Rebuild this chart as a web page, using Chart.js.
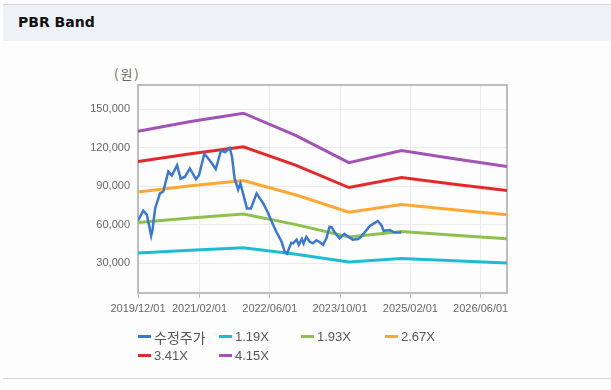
<!DOCTYPE html>
<html>
<head>
<meta charset="utf-8">
<title>PBR Band</title>
<script src="https://cdn.jsdelivr.net/npm/chart.js@4.4.1/dist/chart.umd.min.js"></script>
<style>
  html, body { margin: 0; padding: 0; background: #fdfdfd; }
  #wrap { position: relative; width: 611px; height: 390px; overflow: hidden; font-family: "Liberation Sans", Arial, sans-serif; }
  .head { position: absolute; left: 3px; top: 4px; right: 0; height: 36px; background: #eef1f6; border-top: 1px solid #d4d4d4; }
  .head span { position: absolute; left: 15px; top: 9px; font-family: "DejaVu Sans", sans-serif; font-weight: bold; font-size: 14px; color: #111; }
  .foot { position: absolute; left: 3px; right: 0; top: 378px; border-top: 1px solid #d4d4d4; }
  .unit { position: absolute; left: 114px; top: 64px; font-size: 13px; color: #666; letter-spacing: 2px; font-family: "Noto Sans CJK KR", sans-serif; }
  #chart { position: absolute; left: 0; top: 0; }
  #legend { position: absolute; left: 138px; top: 328px; display: grid; grid-template-columns: 81px 82px 84px 82px; row-gap: 2px; }
  .item { display: flex; align-items: center; height: 17px; font-size: 13px; color: #555; }
  .item i { display: inline-block; width: 13px; height: 3px; margin-right: 3px; }
  .item .ko { font-family: "Noto Sans CJK KR", sans-serif; font-size: 14px; }
</style>
</head>
<body>
<div id="wrap">
  <div class="head"><span>PBR Band</span></div>
  <div class="unit">(원)</div>
  <canvas id="chart" width="611" height="390"></canvas>
  <div id="legend"></div>
  <div class="foot"></div>
</div>
<script>
// 월 단위 위치 (2019/12/01 = 0)
const xTickMonths = [0, 14, 30, 46, 62, 78];
const xTickLabels = ['2019/12/01', '2021/02/01', '2022/06/01', '2023/10/01', '2025/02/01', '2026/06/01'];
const yTicks = [30000, 60000, 90000, 120000, 150000];

// 수정주가
const priceMonths = [0, 1.2, 2.0, 2.5, 3.0, 3.3, 3.9, 5.0, 5.75, 6.9, 7.7, 8.9, 9.7, 10.7, 11.8, 13.2, 13.9,
  15.1, 16.4, 17.7, 18.9, 19.8, 20.4, 20.9, 21.4, 22.0, 22.8, 23.3, 24.1, 24.8, 25.7, 27.0, 28.5, 29.5,
  30.5, 31.5, 32.7, 33.4, 33.9, 34.9, 35.3, 36.1, 36.6, 37.3, 37.7, 38.3, 39.1, 39.8, 40.6, 41.4, 42.1,
  42.9, 43.6, 44.1, 44.8, 45.9, 47.0, 47.8, 48.9, 50.1, 50.8, 51.8, 52.7, 53.9, 54.6, 55.4, 55.9, 57.3,
  58.4, 59.9];
const priceValues = [63500, 71000, 68000, 60000, 51500, 56000, 72800, 84500, 86000, 101500, 98500, 106500, 96000, 97500, 104000, 95500, 98800,
  115500, 110000, 103500, 118000, 116500, 118500, 120000, 113000, 96000, 87500, 92300, 82000, 72800, 72800, 84500, 76700, 70000,
  62000, 54600, 46800, 39000, 37500, 46000, 45600, 48500, 44500, 49000, 45500, 50700, 46800, 45600, 48000, 46500, 44500,
  49500, 58500, 58000, 54000, 49500, 53000, 51000, 48500, 49000, 50700, 55000, 59000, 61500, 63000, 59800, 55400, 56000,
  54000, 54000];

// PBR 밴드 (연말 기준점)
const bandMonths = [0, 12, 24, 36, 48, 60, 72, 84];
const band119 = [38100, 40300, 42200, 37100, 31100, 33800, 32000, 30200];
const band193 = [61900, 65300, 68400, 60200, 50500, 54900, 51900, 49100];
const band267 = [85600, 90400, 94600, 83300, 69800, 75900, 71700, 67900];
const band341 = [109300, 115500, 120800, 106400, 89100, 96900, 91600, 86700];
const band415 = [133000, 140500, 147000, 129500, 108500, 118000, 111500, 105500];

const toPoints = (xs, ys) => xs.map((x, i) => ({ x: x, y: ys[i] }));

const series = [
  { label: '수정주가', color: '#3a78d6', data: toPoints(priceMonths, priceValues), width: 2.5 },
  { label: '1.19X', color: '#1cbdd3', data: toPoints(bandMonths, band119), width: 3 },
  { label: '1.93X', color: '#8dc04c', data: toPoints(bandMonths, band193), width: 3 },
  { label: '2.67X', color: '#ffa733', data: toPoints(bandMonths, band267), width: 3 },
  { label: '3.41X', color: '#e5282a', data: toPoints(bandMonths, band341), width: 3 },
  { label: '4.15X', color: '#a352b5', data: toPoints(bandMonths, band415), width: 3 }
];

// 차트 테두리
const framePlugin = {
  id: 'frame',
  beforeDatasetsDraw(chart) {
    const a = chart.chartArea, c = chart.ctx;
    c.save();
    c.strokeStyle = '#bdbdbd';
    c.lineWidth = 2;
    c.strokeRect(a.left, a.top, a.right - a.left, a.bottom - a.top);
    c.restore();
  }
};

const tickFont = { family: '"Liberation Sans", Arial, sans-serif', size: 11 };

new Chart(document.getElementById('chart'), {
  type: 'line',
  data: {
    datasets: series.map(s => ({
      label: s.label,
      data: s.data,
      borderColor: s.color,
      backgroundColor: s.color,
      borderWidth: s.width,
      pointRadius: 0,
      tension: 0,
      fill: false
    }))
  },
  options: {
    responsive: false,
    animation: false,
    events: [],
    layout: { padding: { left: 88, right: 104, top: 85, bottom: 67 } },
    plugins: { legend: { display: false }, tooltip: { enabled: false } },
    scales: {
      x: {
        type: 'linear',
        min: 0,
        max: 84,
        afterBuildTicks: s => { s.ticks = xTickMonths.map(v => ({ value: v })); },
        afterFit: s => { s.height = 30; },
        ticks: {
          autoSkip: false,
          maxRotation: 0,
          padding: 4,
          color: '#666',
          font: tickFont,
          callback: v => xTickLabels[xTickMonths.indexOf(v)]
        },
        grid: { color: '#ebebeb', tickLength: 5, tickColor: '#bdbdbd' },
        border: { display: false }
      },
      y: {
        min: 6900,
        max: 169000,
        afterBuildTicks: s => { s.ticks = yTicks.map(v => ({ value: v })); },
        afterFit: s => { s.width = 50; },
        ticks: {
          padding: 8,
          color: '#666',
          font: tickFont,
          callback: v => v.toLocaleString('en-US')
        },
        grid: { color: '#ebebeb', drawTicks: false },
        border: { display: false }
      }
    }
  },
  plugins: [framePlugin]
});

// 범례
const legend = document.getElementById('legend');
series.forEach(s => {
  const item = document.createElement('div');
  item.className = 'item';
  const mark = document.createElement('i');
  mark.style.background = s.color;
  const txt = document.createElement('span');
  txt.textContent = s.label;
  if (s.label === '수정주가') txt.className = 'ko';
  item.appendChild(mark);
  item.appendChild(txt);
  legend.appendChild(item);
});
</script>
</body>
</html>
